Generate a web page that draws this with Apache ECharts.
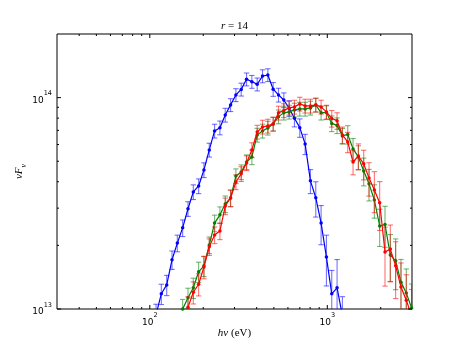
<!DOCTYPE html>
<html><head><meta charset="utf-8">
<script src="https://cdn.jsdelivr.net/npm/echarts@6/dist/echarts.min.js"></script>
<style>html,body{margin:0;padding:0;background:#fff}#c{width:458px;height:345px}</style>
</head><body><div id="c"></div>
<script>
// ---- data (hν in eV, νFν) ----
const energyBlue = [108.4,116.1,124.5,133.4,142.9,153.1,164.1,175.8,188.4,201.8,216.3,231.7,248.3,266.1,285.1,305.5,327.3,350.8,375.8,402.7,431.5,462.4,495.5,530.9,568.9,609.5,653.1,699.8,749.9,803.5,861.0,922.6,988.6,1059.3,1135.0,1216.2];
const fluxBlue = [0.94e13,1.18e13,1.30e13,1.71e13,2.05e13,2.42e13,2.98e13,3.58e13,3.82e13,4.55e13,5.66e13,6.96e13,7.21e13,8.28e13,9.24e13,1.030e14,1.094e14,1.222e14,1.190e14,1.157e14,1.265e14,1.280e14,1.096e14,1.030e14,9.75e13,8.91e13,7.99e13,7.21e13,6.04e13,4.04e13,3.36e13,2.55e13,1.76e13,1.18e13,1.26e13,0.93e13];
const errBlue = [0.113e13,0.130e13,0.143e13,0.171e13,0.185e13,0.218e13,0.238e13,0.286e13,0.306e13,0.364e13,0.425e13,0.522e13,0.541e13,0.621e13,0.647e13,0.721e13,0.766e13,0.855e13,0.833e13,0.810e13,0.892e13,0.892e13,0.822e13,0.773e13,0.78e13,0.757e13,0.719e13,0.721e13,0.664e13,0.525e13,0.638e13,0.536e13,0.475e13,0.342e13,0.454e13,0.214e13];

const energyGreen = [153.1,164.1,175.8,188.4,201.8,216.3,231.7,248.3,266.1,285.1,305.5,327.3,350.8,375.8,402.7,431.5,462.4,495.5,530.9,568.9,609.5,653.1,699.8,749.9,803.5,861.0,922.6,988.6,1059.3,1135.0,1216.2,1303.2,1396.4,1496.2,1603.2,1717.9,1840.8,1972.4,2113.5,2264.6,2426.6,2600.2,2786.1,2985.4];
const fluxGreen = [1.00e13,1.13e13,1.26e13,1.50e13,1.60e13,2.01e13,2.55e13,2.79e13,3.14e13,3.35e13,4.26e13,4.45e13,4.96e13,5.24e13,6.66e13,6.96e13,7.19e13,7.51e13,8.13e13,8.47e13,8.56e13,8.75e13,8.84e13,8.84e13,8.94e13,9.24e13,8.47e13,8.51e13,7.55e13,7.39e13,6.59e13,6.70e13,5.72e13,5.24e13,4.50e13,3.91e13,3.28e13,2.47e13,2.51e13,1.80e13,1.69e13,1.34e13,1.19e13,1.01e13];
const errGreen = [0.110e13,0.124e13,0.139e13,0.165e13,0.176e13,0.181e13,0.230e13,0.251e13,0.283e13,0.302e13,0.341e13,0.356e13,0.397e13,0.419e13,0.50e13,0.522e13,0.539e13,0.563e13,0.61e13,0.635e13,0.642e13,0.656e13,0.663e13,0.663e13,0.671e13,0.693e13,0.635e13,0.638e13,0.642e13,0.628e13,0.560e13,0.670e13,0.686e13,0.681e13,0.675e13,0.665e13,0.590e13,0.494e13,0.552e13,0.45e13,0.456e13,0.375e13,0.357e13,0.303e13];

const energyRed = [164.1,175.8,188.4,201.8,216.3,231.7,248.3,266.1,285.1,305.5,327.3,350.8,375.8,402.7,431.5,462.4,495.5,530.9,568.9,609.5,653.1,699.8,749.9,803.5,861.0,922.6,988.6,1059.3,1135.0,1216.2,1303.2,1396.4,1496.2,1603.2,1717.9,1840.8,1972.4,2113.5,2264.6,2426.6,2600.2,2786.1,2985.4];
const fluxRed = [1.02e13,1.20e13,1.31e13,1.58e13,1.97e13,2.24e13,2.34e13,3.07e13,3.35e13,3.99e13,4.36e13,4.91e13,5.66e13,6.88e13,7.27e13,7.35e13,7.51e13,8.47e13,8.70e13,8.94e13,9.04e13,9.34e13,9.14e13,9.14e13,9.24e13,9.04e13,8.56e13,7.97e13,7.78e13,6.66e13,6.17e13,4.96e13,5.30e13,4.86e13,4.17e13,3.66e13,3.18e13,1.86e13,1.92e13,1.60e13,1.27e13,1.10e13,0.93e13];
const errRed = [0.122e13,0.144e13,0.157e13,0.190e13,0.177e13,0.202e13,0.211e13,0.276e13,0.302e13,0.319e13,0.349e13,0.393e13,0.453e13,0.516e13,0.545e13,0.551e13,0.563e13,0.635e13,0.653e13,0.671e13,0.678e13,0.70e13,0.686e13,0.686e13,0.693e13,0.678e13,0.642e13,0.717e13,0.70e13,0.599e13,0.679e13,0.645e13,0.742e13,0.778e13,0.751e13,0.805e13,0.827e13,0.577e13,0.576e13,0.48e13,0.381e13,0.352e13,0.307e13];

// ---- axis limits & ticks ----
const xLimits = [30, 3000];
const yLimits = [1e13, 2e14];
const xMajorTicks = [100, 1000];
const xMinorTicks = [40,50,60,70,80,90,200,300,400,500,600,700,800,900,2000];
const yMajorTicks = [1e13, 1e14];
const yMinorTicks = [2e13,3e13,4e13,5e13,6e13,7e13,8e13,9e13];

const chart = echarts.init(document.getElementById('c'), null, {renderer:'canvas', width:458, height:345});

function isPow10(v){ const e = Math.log10(v); return Math.abs(e - Math.round(e)) < 1e-6; }
function powLabel(v){ return isPow10(v) ? '{b|10}{s|' + Math.round(Math.log10(v)) + '}' : ''; }
const labelRich = {
  b: {fontSize: 9, lineHeight: 15, verticalAlign: 'bottom', fontFamily: 'DejaVu Sans', color: '#000'},
  s: {fontSize: 6.5, lineHeight: 8, verticalAlign: 'top', fontFamily: 'DejaVu Sans', color: '#000'}
};

function errSeries(color, xs, ys, es, z){
  return {
    type: 'custom', clip: true, z: z, silent: true,
    data: xs.map((x, i) => [x, ys[i] - es[i], ys[i] + es[i]]),
    encode: {x: 0, y: [1, 2]},
    renderItem: function(params, api){
      const lo = api.coord([api.value(0), api.value(1)]);
      const hi = api.coord([api.value(0), api.value(2)]);
      const w = 2.7;
      const st = {stroke: color, lineWidth: 1.1, opacity: 0.55};
      return {type: 'group', children: [
        {type: 'line', shape: {x1: lo[0], y1: lo[1], x2: hi[0], y2: hi[1]}, style: st},
        {type: 'line', shape: {x1: lo[0]-w, y1: lo[1], x2: lo[0]+w, y2: lo[1]}, style: st},
        {type: 'line', shape: {x1: hi[0]-w, y1: hi[1], x2: hi[0]+w, y2: hi[1]}, style: st}
      ]};
    }
  };
}
function lineSeries(color, xs, ys, z){
  return {
    type: 'line', z: z, silent: true, clip: true,
    data: xs.map((x, i) => [x, ys[i]]),
    symbol: 'circle', symbolSize: 3.5,
    itemStyle: {color: color},
    lineStyle: {color: color, width: 1.2}
  };
}
const tickData = xMajorTicks.map(v => [v, yLimits[0], 1]).concat(xMinorTicks.map(v => [v, yLimits[0], 0]));
const yTickData = yMajorTicks.map(v => [xLimits[0], v, 1]).concat(yMinorTicks.map(v => [xLimits[0], v, 0]));

const option = {
  animation: false,
  grid: {left: 57, top: 34, width: 355, height: 275, show: true, borderColor: '#000', borderWidth: 1, backgroundColor: 'transparent'},
  xAxis: {
    type: 'log', logBase: 10, min: xLimits[0], max: xLimits[1],
    axisLine: {show: false}, axisTick: {show: false}, splitLine: {show: false}, minorTick: {show: false},
    axisLabel: {margin: 3, formatter: powLabel, rich: labelRich, showMinLabel: true, showMaxLabel: true},
    name: '{i|hν}{n| (eV)}', nameLocation: 'middle', nameGap: 19, nameMoveOverlap: false,
    nameTextStyle: {rich: {
      i: {fontFamily: 'Liberation Serif', fontStyle: 'italic', fontSize: 11, color: '#000'},
      n: {fontFamily: 'Liberation Serif', fontSize: 11, color: '#000'}
    }}
  },
  yAxis: {
    type: 'log', logBase: 10, min: yLimits[0], max: yLimits[1],
    axisLine: {show: false}, axisTick: {show: false}, splitLine: {show: false}, minorTick: {show: false},
    axisLabel: {margin: 5, formatter: powLabel, rich: labelRich},
    name: '{a|νF}{b|ν}', nameLocation: 'middle', nameGap: 29, nameMoveOverlap: false,
    nameTextStyle: {rich: {
      a: {fontFamily: 'Liberation Serif', fontStyle: 'italic', fontSize: 11, lineHeight: 12, verticalAlign: 'top', color: '#000'},
      b: {fontFamily: 'Liberation Serif', fontStyle: 'italic', fontSize: 8, lineHeight: 14, verticalAlign: 'bottom', color: '#000'}
    }}
  },
  graphic: [{
    type: 'text', x: 234.5, y: 26,
    style: {text: '{i|r}{n| = 14}', align: 'center', verticalAlign: 'middle',
      rich: {i: {fontFamily: 'Liberation Serif', fontStyle: 'italic', fontSize: 11, fill: '#000'},
             n: {fontFamily: 'Liberation Serif', fontSize: 11, fill: '#000'}}}
  }],
  series: [
    errSeries('#0000ff', energyBlue, fluxBlue, errBlue, 2),
    lineSeries('#0000ff', energyBlue, fluxBlue, 3),
    errSeries('#008000', energyGreen, fluxGreen, errGreen, 4),
    lineSeries('#008000', energyGreen, fluxGreen, 5),
    errSeries('#ff0000', energyRed, fluxRed, errRed, 6),
    lineSeries('#ff0000', energyRed, fluxRed, 7),
    {
      type: 'custom', silent: true, z: 8, clip: false,
      data: tickData, encode: {x: 0, y: 1},
      renderItem: function(params, api){
        const b = api.coord([api.value(0), yLimits[0]]);
        const t = api.coord([api.value(0), yLimits[1]]);
        const len = api.value(2) ? 4 : 2;
        const st = {stroke: '#000', lineWidth: 1};
        return {type: 'group', children: [
          {type: 'line', shape: {x1: b[0], y1: b[1], x2: b[0], y2: b[1]-len}, style: st},
          {type: 'line', shape: {x1: t[0], y1: t[1], x2: t[0], y2: t[1]+len}, style: st}
        ]};
      }
    },
    {
      type: 'custom', silent: true, z: 8, clip: false,
      data: yTickData, encode: {x: 0, y: 1},
      renderItem: function(params, api){
        const l = api.coord([xLimits[0], api.value(1)]);
        const r = api.coord([xLimits[1], api.value(1)]);
        const len = api.value(2) ? 4 : 2;
        const st = {stroke: '#000', lineWidth: 1};
        return {type: 'group', children: [
          {type: 'line', shape: {x1: l[0], y1: l[1], x2: l[0]+len, y2: l[1]}, style: st},
          {type: 'line', shape: {x1: r[0], y1: r[1], x2: r[0]-len, y2: r[1]}, style: st}
        ]};
      }
    }
  ]
};
chart.setOption(option);
</script></body></html>
